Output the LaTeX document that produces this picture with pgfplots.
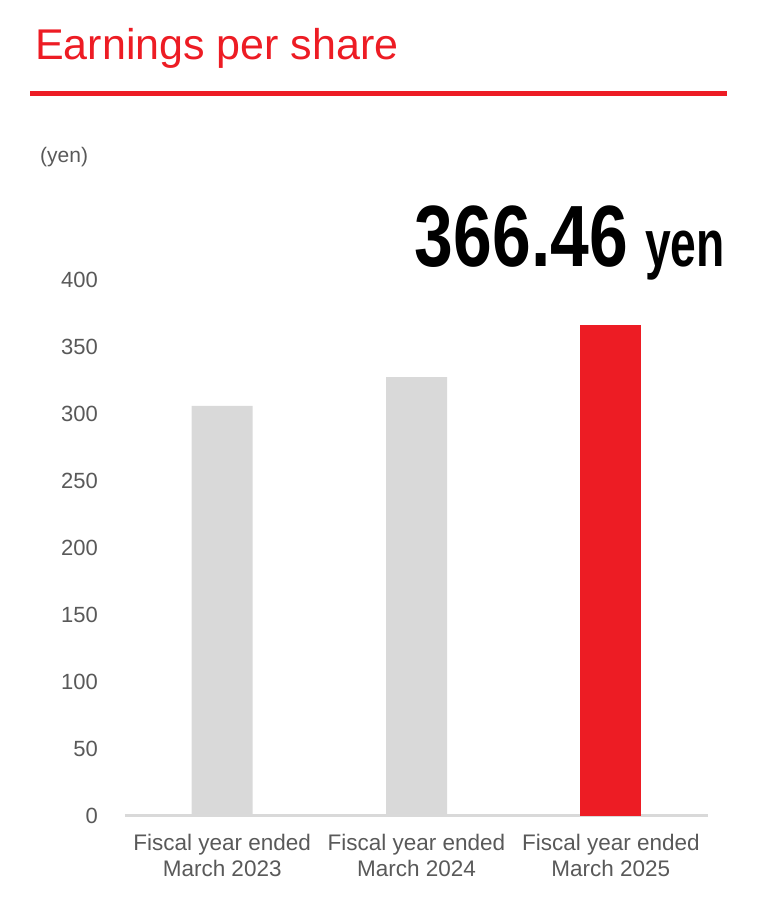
\documentclass[border=0pt]{standalone}
\usepackage{pgfplots}
\pgfplotsset{compat=1.18}
\usepackage{fontspec}
\usepackage{graphicx}
\setmainfont{Liberation Sans}
\definecolor{epsred}{RGB}{237,28,36}
\definecolor{barg}{RGB}{217,217,217}
\definecolor{txtg}{RGB}{89,89,89}

\begin{document}
\begin{tikzpicture}
  \path[use as bounding box] (0pt,0pt) rectangle (772pt,897pt);
  % title and rule
  \node[anchor=base west, inner sep=0pt, text=epsred,
        font=\fontsize{43}{50}\selectfont] at (35pt,837pt) {Earnings per share};
  \fill[epsred] (30pt,801pt) rectangle (727pt,806pt);
  \node[anchor=base west, inner sep=0pt, text=txtg,
        font=\fontsize{21}{24}\selectfont] at (40pt,734pt) {(yen)};
  % headline value
  \node[anchor=base east, inner sep=0pt,
        font=\fontsize{87}{90}\selectfont\bfseries] at (628pt,630pt) {\scalebox{0.8}[1]{366.46}};
  \node[anchor=base west, inner sep=0pt,
        font=\fontsize{66}{70}\selectfont\bfseries] at (645pt,630pt) {\scalebox{0.7}[1]{yen}};
  \begin{axis}[
      at={(125pt,81pt)}, anchor=south west,
      scale only axis, width=583pt, height=536pt,
      xmin=-0.5, xmax=2.5, ymin=0, ymax=400,
      ybar, bar width=61pt, bar shift=0pt,
      axis lines*=left,
      y axis line style={draw=none},
      x axis line style={barg, line width=3pt},
      major tick length=0pt,
      ytick={0,50,...,400},
      xtick={0,1,2},
      xticklabels={{Fiscal year ended\\March 2023},{Fiscal year ended\\March 2024},{Fiscal year ended\\March 2025}},
      /pgf/number format/assume math mode=true,
      yticklabel style={font=\fontsize{22}{24}\selectfont, text=txtg, inner sep=0pt, xshift=-27pt},
      xticklabel style={font=\fontsize{22.5}{26}\selectfont, text=txtg, align=center, inner sep=0pt, yshift=-18pt},
    ]
    \addplot[fill=barg, draw=none] coordinates {(0,306) (1,327.6)};
    \addplot[fill=epsred, draw=none] coordinates {(2,366.46)};
  \end{axis}
\end{tikzpicture}
\end{document}
